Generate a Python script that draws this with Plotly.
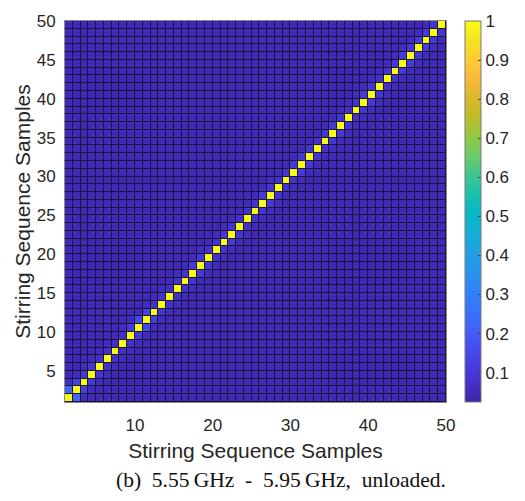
import plotly.graph_objects as go

# ---- data ----
n_samples = 50
diag_value = 1.0
# correlation between neighbouring samples (lag 1), sample k vs k+1
lag1_values = [0.22, 0.13, 0.10, 0.09, 0.08, 0.08, 0.07, 0.08, 0.11, 0.15,
               0.13, 0.09, 0.08, 0.07, 0.08, 0.09, 0.11, 0.10, 0.08, 0.09,
               0.10, 0.09, 0.08, 0.08, 0.09, 0.10, 0.09, 0.08, 0.09, 0.11,
               0.10, 0.09, 0.08, 0.09, 0.10, 0.09, 0.08, 0.09, 0.10, 0.09,
               0.08, 0.09, 0.10, 0.11, 0.10, 0.12, 0.11, 0.09, 0.08]
lag2_value = 0.055
background_value = 0.045
x_ticks = [10, 20, 30, 40, 50]
y_ticks = [5, 10, 15, 20, 25, 30, 35, 40, 45, 50]
cbar_ticks = [0.1, 0.2, 0.3, 0.4, 0.5, 0.6, 0.7, 0.8, 0.9, 1]
z_min = 0.025
z_max = 1.0

# build the symmetric matrix
C = [[background_value] * n_samples for _ in range(n_samples)]
for k in range(n_samples):
    C[k][k] = diag_value
for k in range(n_samples - 1):
    C[k][k + 1] = lag1_values[k]
    C[k + 1][k] = lag1_values[k]
for k in range(n_samples - 2):
    C[k][k + 2] = lag2_value
    C[k + 2][k] = lag2_value

# pcolor-style: 49x49 visible cells between edges 1..50
edges = list(range(1, n_samples + 1))
z = [row[:n_samples - 1] for row in C[:n_samples - 1]]

parula = [
    (0.00, (62, 38, 168)), (0.05, (68, 48, 200)), (0.10, (71, 62, 225)),
    (0.15, (70, 80, 240)), (0.20, (64, 100, 252)), (0.25, (55, 118, 254)),
    (0.30, (45, 135, 248)), (0.35, (38, 150, 235)), (0.40, (32, 162, 225)),
    (0.45, (18, 175, 212)), (0.50, (5, 185, 195)), (0.55, (30, 193, 170)),
    (0.60, (65, 199, 140)), (0.65, (110, 203, 100)), (0.70, (150, 200, 65)),
    (0.75, (190, 188, 40)), (0.80, (220, 184, 45)), (0.85, (252, 185, 60)),
    (0.90, (254, 205, 50)), (0.95, (245, 228, 35)), (1.00, (249, 251, 20)),
]
colorscale = [[p, "rgb(%d,%d,%d)" % c] for p, c in parula]

fig = go.Figure(go.Heatmap(
    x=edges, y=edges, z=z,
    zmin=z_min, zmax=z_max,
    colorscale=colorscale,
    xgap=1, ygap=1,
    colorbar=dict(
        x=1.049, xanchor="left", xpad=0,
        y=0, yanchor="bottom", len=1, lenmode="fraction", ypad=0,
        thickness=16, thicknessmode="pixels",
        tickvals=cbar_ticks, ticktext=[str(t) for t in cbar_ticks],
        ticks="inside", ticklen=3, tickcolor="#404040",
        tickfont=dict(family="Liberation Sans, Arial", size=17, color="#262626"),
        outlinewidth=1, outlinecolor="#7a7a7a",
    ),
))

axis_common = dict(
    showgrid=False, zeroline=False,
    showline=True, mirror=True, linecolor="#8a8a8a", linewidth=1,
    ticks="", tickfont=dict(family="Liberation Sans, Arial", size=17, color="#262626"),
    title_font=dict(family="Liberation Sans, Arial", size=21, color="#262626"),
)

fig.update_xaxes(range=[1, 50], tickvals=x_ticks,
                 title_text="Stirring Sequence Samples", title_standoff=8,
                 ticklabelstandoff=8, **axis_common)
fig.update_yaxes(range=[1, 50], tickvals=y_ticks,
                 title_text="Stirring Sequence Samples", title_standoff=0,
                 ticklabelstandoff=5, **axis_common)

fig.add_annotation(
    text="(b)\u00a0 5.55\u2009GHz\u00a0 -\u00a0 5.95\u2009GHz,\u00a0 unloaded.",
    xref="paper", yref="paper", x=(286 - 65) / 389, y=-(481 - 402) / 388,
    xanchor="center", yanchor="middle", showarrow=False,
    font=dict(family="Liberation Serif, Times New Roman", size=21.5, color="#111111"),
)

fig.update_layout(
    width=525, height=501,
    margin=dict(l=65, r=71, t=14, b=99, pad=0),
    paper_bgcolor="white", plot_bgcolor="#1a1440",
    showlegend=False,
)

fig.write_html("out.html")
